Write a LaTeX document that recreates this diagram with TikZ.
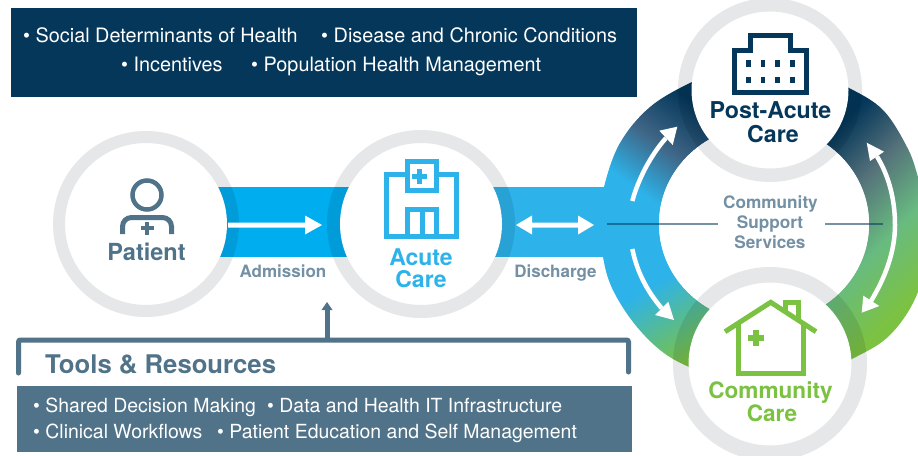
\documentclass[tikz,border=0pt]{standalone}
\usepackage{fontspec}
\setmainfont{TeX Gyre Heros}
\definecolor{navy}{HTML}{04375A}
\definecolor{slate}{HTML}{517389}
\definecolor{mute}{HTML}{7390A4}
\definecolor{cyanband}{HTML}{00ADEF}
\definecolor{skyband}{HTML}{2DB3EA}
\definecolor{leaf}{HTML}{7CC242}
\definecolor{halo}{HTML}{E6E7E8}
\definecolor{midblue}{HTML}{3F6585}
\pgfdeclareverticalshading{ringupper}{100bp}{color(0bp)=(skyband); color(40bp)=(skyband); color(53bp)=(midblue); color(66bp)=(navy); color(100bp)=(navy)}
\pgfdeclareverticalshading{ringlower}{100bp}{color(0bp)=(skyband); color(47bp)=(skyband); color(68bp)=(leaf); color(100bp)=(leaf)}
\definecolor{midgrey}{HTML}{55717A}
\definecolor{midgreen}{HTML}{68BB80}
\pgfdeclareverticalshading{ringright}{100bp}{color(0bp)=(navy); color(37bp)=(navy); color(46bp)=(midgrey); color(56bp)=(midgreen); color(66bp)=(leaf); color(100bp)=(leaf)}
\tikzset{
  lab/.style={inner sep=0pt,anchor=base,font=\bfseries\fontsize{#1}{#1}\selectfont},
  item/.style={inner sep=0pt,anchor=base west,text=white,font=\fontsize{#1}{#1}\selectfont},
  icon/.style={line width=#1,line join=miter},
  whitearrow/.style={white,line width=4.5pt},
}
\newcommand{\halocircle}[3]{%
  \fill[white] (#1) circle[radius=#3];
  \fill[halo,blend mode=multiply,even odd rule] (#1) circle[radius=#2] (#1) circle[radius=#3];
}
\newcommand{\crossmark}[5]{% x y half-length half-thick colour
  \fill[#5] ({#1-#3},{#2-#4}) rectangle ({#1+#3},{#2+#4});
  \fill[#5] ({#1-#4},{#2-#3}) rectangle ({#1+#4},{#2+#3});
}
\begin{document}
\begin{tikzpicture}[x=1pt,y=-1pt]
\useasboundingbox (0,0) rectangle (918,455);
\fill[white] (0,0) rectangle (918,455);

% ---- coordinates
\coordinate (cpat) at (146,224);
\coordinate (cacu) at (421,224);
\coordinate (cpost) at (770,90);
\coordinate (ccom) at (770,364);

% ---- ring
\begin{scope}
\clip plot[smooth cycle,tension=0.6] coordinates {(692,82) (650,107) (620,143) (604,187) (600,222) (603,257) (612,288) (633,322) (660,350) (689,367) (730,382) (810,378) (852,359) (890,335) (918,292) (932,230) (918,177) (907,147) (883,110) (849,88) (810,72) (730,68)};
\begin{scope}
\clip (560,40) rectangle (770,224);
\shade[shading=ringupper,shading angle=-36] (550,50) rectangle (750,250);
\end{scope}
\begin{scope}
\clip (560,223) rectangle (770,420);
\shade[shading=ringlower,shading angle=-150] (550,200) rectangle (750,400);
\end{scope}
\begin{scope}
\clip (769.5,40) rectangle (950,420);
\shade[shading=ringright,shading angle=-135] (700,75) rectangle (1000,375);
\end{scope}
\end{scope}
\fill[white] (764,224) ellipse[x radius=105,y radius=99];

% ---- bands
\fill[cyanband] (146,187) rectangle (421,257);
\fill[skyband] (421,187) rectangle (640,257);
\fill[white] (764,224) ellipse[x radius=105,y radius=99];

% ---- support lines
\coordinate (la) at (607,223.5); \coordinate (lb) at (718,223.5);
\coordinate (lc) at (825,223.5); \coordinate (ld) at (883,223.5);
\draw[navy,opacity=0.55,line width=2pt] (la) -- (lb);
\draw[navy,opacity=0.55,line width=2pt] (lc) -- (ld);

% ---- circles
\halocircle{cpat}{93}{81}
\halocircle{cacu}{94}{81}
\halocircle{cpost}{92}{78.5}
\halocircle{ccom}{97}{81.5}

% ---- straight arrows
\fill[white] (228,222.5) -- (305,222.5) -- (305,215.5) -- (322,225) -- (305,234.5) -- (305,227.5) -- (228,227.5) -- cycle;
\fill[white] (516,225) -- (532,215.5) -- (532,222.5) -- (578,222.5) -- (578,215.5) -- (594,225) -- (578,234.5) -- (578,227.5) -- (532,227.5) -- (532,234.5) -- cycle;

% ---- curved arrows
\draw[whitearrow] (632.3,201) .. controls (638,180) and (650,156) .. (666,138);
\fill[white] (677.3,126.7) -- (659.3,130.7) -- (672.7,145) -- cycle;
\draw[whitearrow] (632.3,249) .. controls (637,272) and (647,291) .. (661.7,308.3);
\fill[white] (674,320) -- (668.3,301.7) -- (655,315) -- cycle;
\draw[whitearrow] (877,156.5) .. controls (889,176) and (895,200) .. (895,225) .. controls (895,252) and (885,278) .. (871,301);
\fill[white] (866.7,142.7) -- (884,151.7) -- (870,161) -- cycle;
\fill[white] (861.7,312.7) -- (863.3,295.7) -- (879.3,306) -- cycle;

% ---- patient icon
\draw[slate,line width=4.5pt] (147,195) circle[radius=14.5];
\draw[slate,line width=5pt,rounded corners=9pt] (122.5,234) -- (122.5,217.5) -- (171.5,217.5) -- (171.5,234);
\crossmark{147}{228}{6.5}{2.3}{slate}
\node[lab=23.5,text=slate] (patient) at (146.5,260) {Patient};

% ---- acute icon
\draw[skyband,icon=5pt] (386.5,174.5) rectangle (456.5,236.5);
\draw[skyband,icon=5pt,fill=white] (407.5,161.5) rectangle (436.5,190.5);
\draw[skyband,icon=5pt] (407.5,236.5) -- (407.5,209.5) -- (436.5,209.5) -- (436.5,236.5);
\draw[skyband,icon=5pt] (422,209.5) -- (422,236.5);
\crossmark{419}{176}{7.5}{2.5}{skyband}
\node[lab=23,text=skyband] (acute1) at (421,265) {Acute};
\node[lab=23,text=skyband] (acute2) at (421,287.5) {Care};

% ---- post-acute icon
\draw[navy,icon=5pt] (734,50.3) -- (750.6,50.3) -- (750.6,35.3) -- (790,35.3) -- (790,50.3) -- (806.6,50.3) -- (806.6,92.7) -- (734,92.7) -- cycle;
\foreach \wx in {748.3,763,777.3,792.7}{
  \foreach \wy in {63.3,80}{
    \fill[navy] ({\wx-2.4},{\wy-3.3}) rectangle ({\wx+2.4},{\wy+3.3});
  }
}
\node[lab=23.2,text=navy] (post1) at (770.5,118) {Post-Acute};
\node[lab=23.2,text=navy] (post2) at (773,142) {Care};

% ---- community icon
\draw[leaf,icon=5pt] (738.6,323) -- (738.6,373.3) -- (803,373.3) -- (803,323);
\draw[leaf,icon=5pt] (725,331.7) -- (770.7,302.3) -- (816,331.7);
\draw[leaf,icon=5pt] (785.7,312) -- (785.7,302.3) -- (798.7,302.3) -- (798.7,321);
\crossmark{756}{337.7}{8}{2.8}{leaf}
\node[lab=22.6,text=leaf] (com1) at (770.5,398) {Community};
\node[lab=22.6,text=leaf] (com2) at (772,421) {Care};

% ---- flow labels
\node[lab=17,text=mute] (adm) at (283,277) {Admission};
\node[lab=17,text=mute] (dis) at (555.5,277) {Discharge};
\node[lab=17.2,text=mute] (s1) at (770.5,208) {Community};
\node[lab=17.2,text=mute] (s2) at (770,228) {Support};
\node[lab=17.2,text=mute] (s3) at (770,248) {Services};

% ---- top box
\fill[navy] (11,8) rectangle (637,97);
\node[item=19.85] (t1) at (23,42) {• Social Determinants of Health};
\node[item=19.85] (t2) at (321,42) {• Disease and Chronic Conditions};
\node[item=19.85] (t3) at (121,71) {• Incentives};
\node[item=19.85] (t4) at (251,71) {• Population Health Management};

% ---- tools
\coordinate (brl) at (18.5,373);
\coordinate (brr) at (628.5,372);
\coordinate (tipa) at (327,302);
\coordinate (basea) at (327,340);
\draw[slate,line width=5pt,line cap=round,rounded corners=2pt] (brl) -- (18.5,340) -- (628.5,340) -- (brr);
\draw[slate,line width=5pt] (basea) -- (327,309);
\fill[slate] (tipa) -- (332.5,310) -- (321.5,310) -- cycle;
\node[inner sep=0pt,anchor=base west,text=slate,font=\bfseries\fontsize{25.7}{25.7}\selectfont] (tools) at (45,373) {Tools \& Resources};
\fill[slate] (17,386) rectangle (632,452);
\node[item=19.45] (r1) at (33,412) {• Shared Decision Making};
\node[item=19.45] (r2) at (267,412) {• Data and Health IT Infrastructure};
\node[item=19.45] (r3) at (33,438) {• Clinical Workflows};
\node[item=19.45] (r4) at (217,438) {• Patient Education and Self Management};
\end{tikzpicture}
\end{document}
